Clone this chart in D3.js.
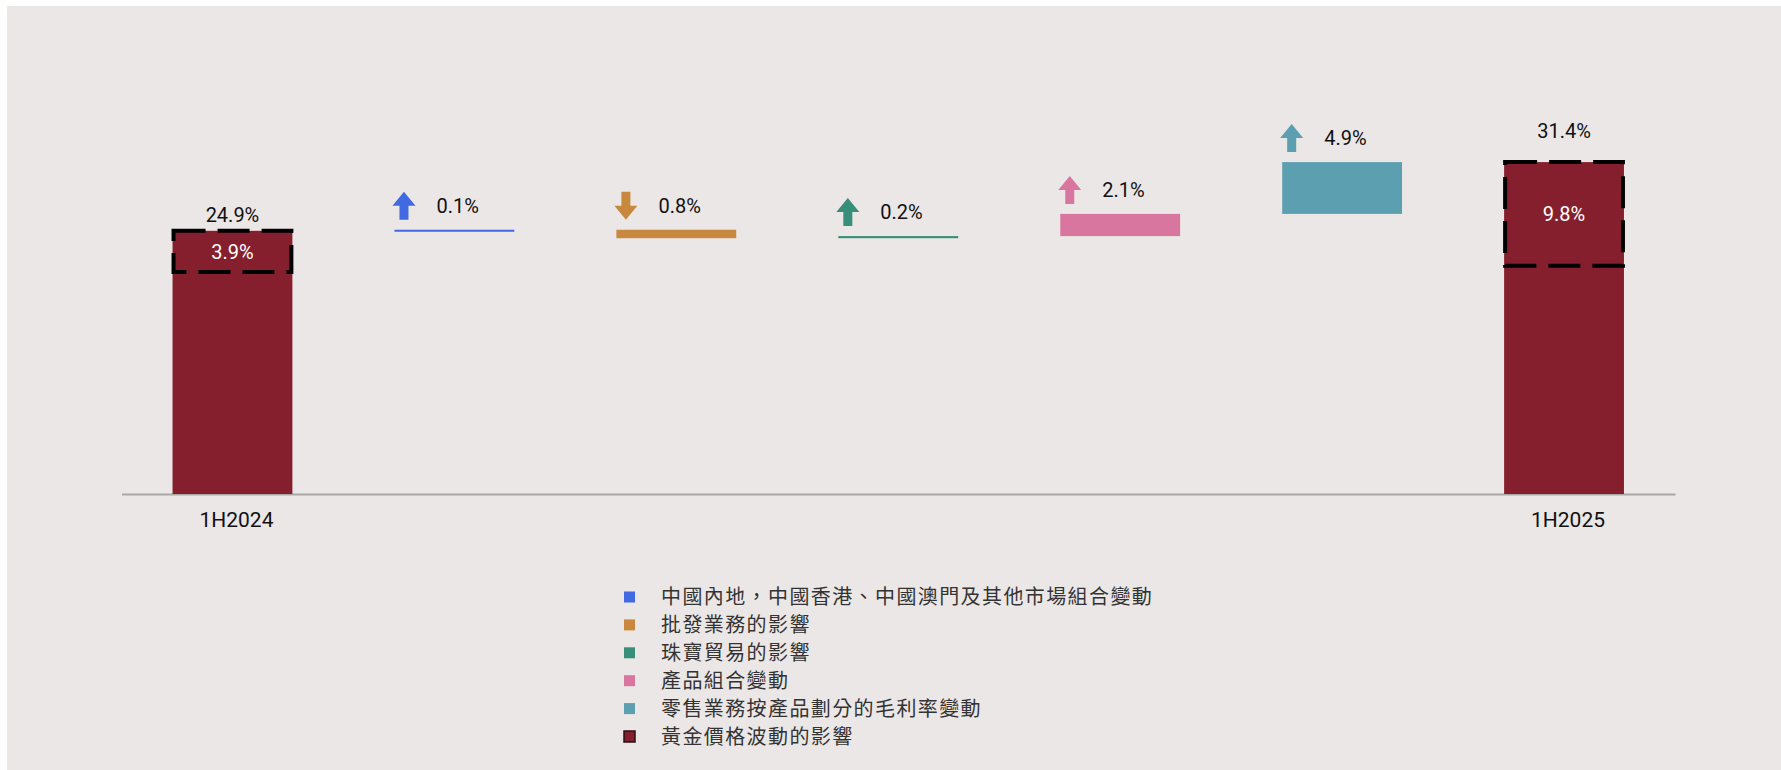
<!DOCTYPE html>
<html>
<head>
<meta charset="utf-8">
<script src="https://cdn.jsdelivr.net/npm/d3@7"></script>
<style>
  body { margin: 0; background: #fff; }
  svg { display: block; }
</style>
</head>
<body>
<div id="chart"></div>
<script>
// chart data
const categories = ["1H2024", "mix", "wholesale", "trading", "product", "retail", "1H2025"];
const axisLabels = ["1H2024", "", "", "", "", "", "1H2025"];
const startValue = 24.9;
const endValue = 31.4;
const changes = [0.1, -0.8, 0.2, 2.1, 4.9];
const changeLabels = ["0.1%", "0.8%", "0.2%", "2.1%", "4.9%"];
const totalLabels = ["24.9%", "31.4%"];
const goldImpact = [3.9, 9.8];
const goldLabels = ["3.9%", "9.8%"];
const legendLabels = [
    "中國內地，中國香港、中國澳門及其他市場組合變動",
    "批發業務的影響",
    "珠寶貿易的影響",
    "產品組合變動",
    "零售業務按產品劃分的毛利率變動",
    "黃金價格波動的影響"
];

const colors = ["#4169e1", "#c8893e", "#388f79", "#d9769f", "#5c9fb0", "#861f2d"];

const W = 1781, H = 770;
const labelFont = "Roboto, 'Noto Sans', sans-serif";

const svg = d3.select("#chart").append("svg")
    .attr("width", W)
    .attr("height", H);

svg.append("rect")
    .attr("x", 7).attr("y", 6)
    .attr("width", W - 7).attr("height", H - 6)
    .attr("fill", "#ebe7e6");

let x = d3.scaleBand()
    .domain(categories)
    .range([121.5, 1675])
    .paddingInner(0.46)
    .paddingOuter(0.23);

let y = d3.scaleLinear()
    .domain([0, 35])
    .range([494, 494 - 35 * 10.57]);

// waterfall steps
let running = startValue;
let steps = changes.map(function(v, i) {
    let from = running;
    running += v;
    return {cat: categories[i + 1], from: from, to: running, value: v, label: changeLabels[i], color: colors[i]};
});

let totals = [
    {cat: categories[0], value: startValue, gold: goldImpact[0], label: totalLabels[0], goldLabel: goldLabels[0], gap: 9},
    {cat: categories[categories.length - 1], value: endValue, gold: goldImpact[1], label: totalLabels[1], goldLabel: goldLabels[1], gap: 24}
];

// axis
let axis = svg.append("g")
    .attr("transform", "translate(0," + y(0) + ")")
    .call(d3.axisBottom(x).tickSize(0).tickFormat(function(d, i) { return axisLabels[i]; }));
axis.select(".domain")
    .attr("stroke", "#a9a7a6")
    .attr("stroke-width", 2);
axis.selectAll("text")
    .attr("dy", "1.45em")
    .attr("dx", 4)
    .style("font-family", labelFont)
    .style("font-size", "21px")
    .attr("fill", "#111");

// total bars
svg.selectAll(".total")
    .data(totals)
  .enter().append("rect")
    .attr("class", "total")
    .attr("x", function(d) { return x(d.cat); })
    .attr("y", function(d) { return y(d.value); })
    .attr("width", x.bandwidth())
    .attr("height", function(d) { return y(0) - y(d.value); })
    .attr("fill", colors[5]);

svg.selectAll(".gold-box")
    .data(totals)
  .enter().append("rect")
    .attr("class", "gold-box")
    .attr("x", function(d) { return x(d.cat) + 1; })
    .attr("y", function(d) { return y(d.value); })
    .attr("width", x.bandwidth() - 2)
    .attr("height", function(d) { return y(d.value - d.gold) - y(d.value); })
    .attr("fill", "none")
    .attr("stroke", "#000")
    .attr("stroke-width", 4)
    .attr("stroke-dasharray", "32 12");

svg.selectAll(".gold-label")
    .data(totals)
  .enter().append("text")
    .attr("class", "gold-label")
    .attr("x", function(d) { return x(d.cat) + x.bandwidth() / 2; })
    .attr("y", function(d) { return (y(d.value) + y(d.value - d.gold)) / 2; })
    .attr("dy", "0.36em")
    .attr("text-anchor", "middle")
    .attr("fill", "#fff")
    .style("font-family", labelFont)
    .style("font-size", "20px")
    .text(function(d) { return d.goldLabel; });

svg.selectAll(".total-label")
    .data(totals)
  .enter().append("text")
    .attr("class", "total-label")
    .attr("x", function(d) { return x(d.cat) + x.bandwidth() / 2; })
    .attr("y", function(d) { return y(d.value) - d.gap; })
    .attr("text-anchor", "middle")
    .attr("fill", "#111")
    .style("font-family", labelFont)
    .style("font-size", "20px")
    .text(function(d) { return d.label; });

// floating change bars
svg.selectAll(".step")
    .data(steps)
  .enter().append("rect")
    .attr("class", "step")
    .attr("x", function(d) { return x(d.cat); })
    .attr("y", function(d) { return Math.min(y(d.from), y(d.to)); })
    .attr("width", x.bandwidth())
    .attr("height", function(d) { return Math.max(2, Math.abs(y(d.from) - y(d.to))); })
    .attr("fill", function(d) { return d.color; });

let arrowW = 23, arrowH = 28, headH = 14, stemW = 9;
let arrowPath = function(d) {
    let top = Math.min(y(d.from), y(d.to));
    let bottom = top - 10, t = bottom - arrowH;
    let cx = x(d.cat) - 2 + arrowW / 2;
    let p = d3.path();
    if (d.value >= 0) {
        p.moveTo(cx, t);
        p.lineTo(cx + arrowW / 2, t + headH);
        p.lineTo(cx + stemW / 2, t + headH);
        p.lineTo(cx + stemW / 2, bottom);
        p.lineTo(cx - stemW / 2, bottom);
        p.lineTo(cx - stemW / 2, t + headH);
        p.lineTo(cx - arrowW / 2, t + headH);
    } else {
        p.moveTo(cx, bottom);
        p.lineTo(cx + arrowW / 2, bottom - headH);
        p.lineTo(cx + stemW / 2, bottom - headH);
        p.lineTo(cx + stemW / 2, t);
        p.lineTo(cx - stemW / 2, t);
        p.lineTo(cx - stemW / 2, bottom - headH);
        p.lineTo(cx - arrowW / 2, bottom - headH);
    }
    p.closePath();
    return p.toString();
};

svg.selectAll(".arrow")
    .data(steps)
  .enter().append("path")
    .attr("class", "arrow")
    .attr("d", arrowPath)
    .attr("fill", function(d) { return d.color; });

svg.selectAll(".step-label")
    .data(steps)
  .enter().append("text")
    .attr("class", "step-label")
    .attr("x", function(d) { return x(d.cat) + 42; })
    .attr("y", function(d) { return Math.min(y(d.from), y(d.to)) - 10 - arrowH / 2; })
    .attr("dy", "0.36em")
    .attr("fill", "#111")
    .style("font-family", labelFont)
    .style("font-size", "20px")
    .text(function(d) { return d.label; });

// legend
let legend = svg.append("g")
    .attr("transform", "translate(624,597)");

let item = legend.selectAll(".item")
    .data(legendLabels)
  .enter().append("g")
    .attr("class", "item")
    .attr("transform", function(d, i) { return "translate(0," + (i * 27.9) + ")"; });

item.append("rect")
    .attr("x", 0).attr("y", -5.5)
    .attr("width", 11).attr("height", 11)
    .attr("fill", function(d, i) { return colors[i]; })
    .attr("stroke", function(d, i) { return i === 5 ? "#2a1014" : "none"; })
    .attr("stroke-width", 1.5);

item.append("text")
    .attr("x", 37)
    .attr("dy", "0.36em")
    .attr("fill", "#333")
    .style("font-family", "'Noto Sans CJK TC', sans-serif")
    .style("font-size", "20px")
    .style("letter-spacing", "1.4px")
    .text(function(d) { return d; });
</script>
</body>
</html>
